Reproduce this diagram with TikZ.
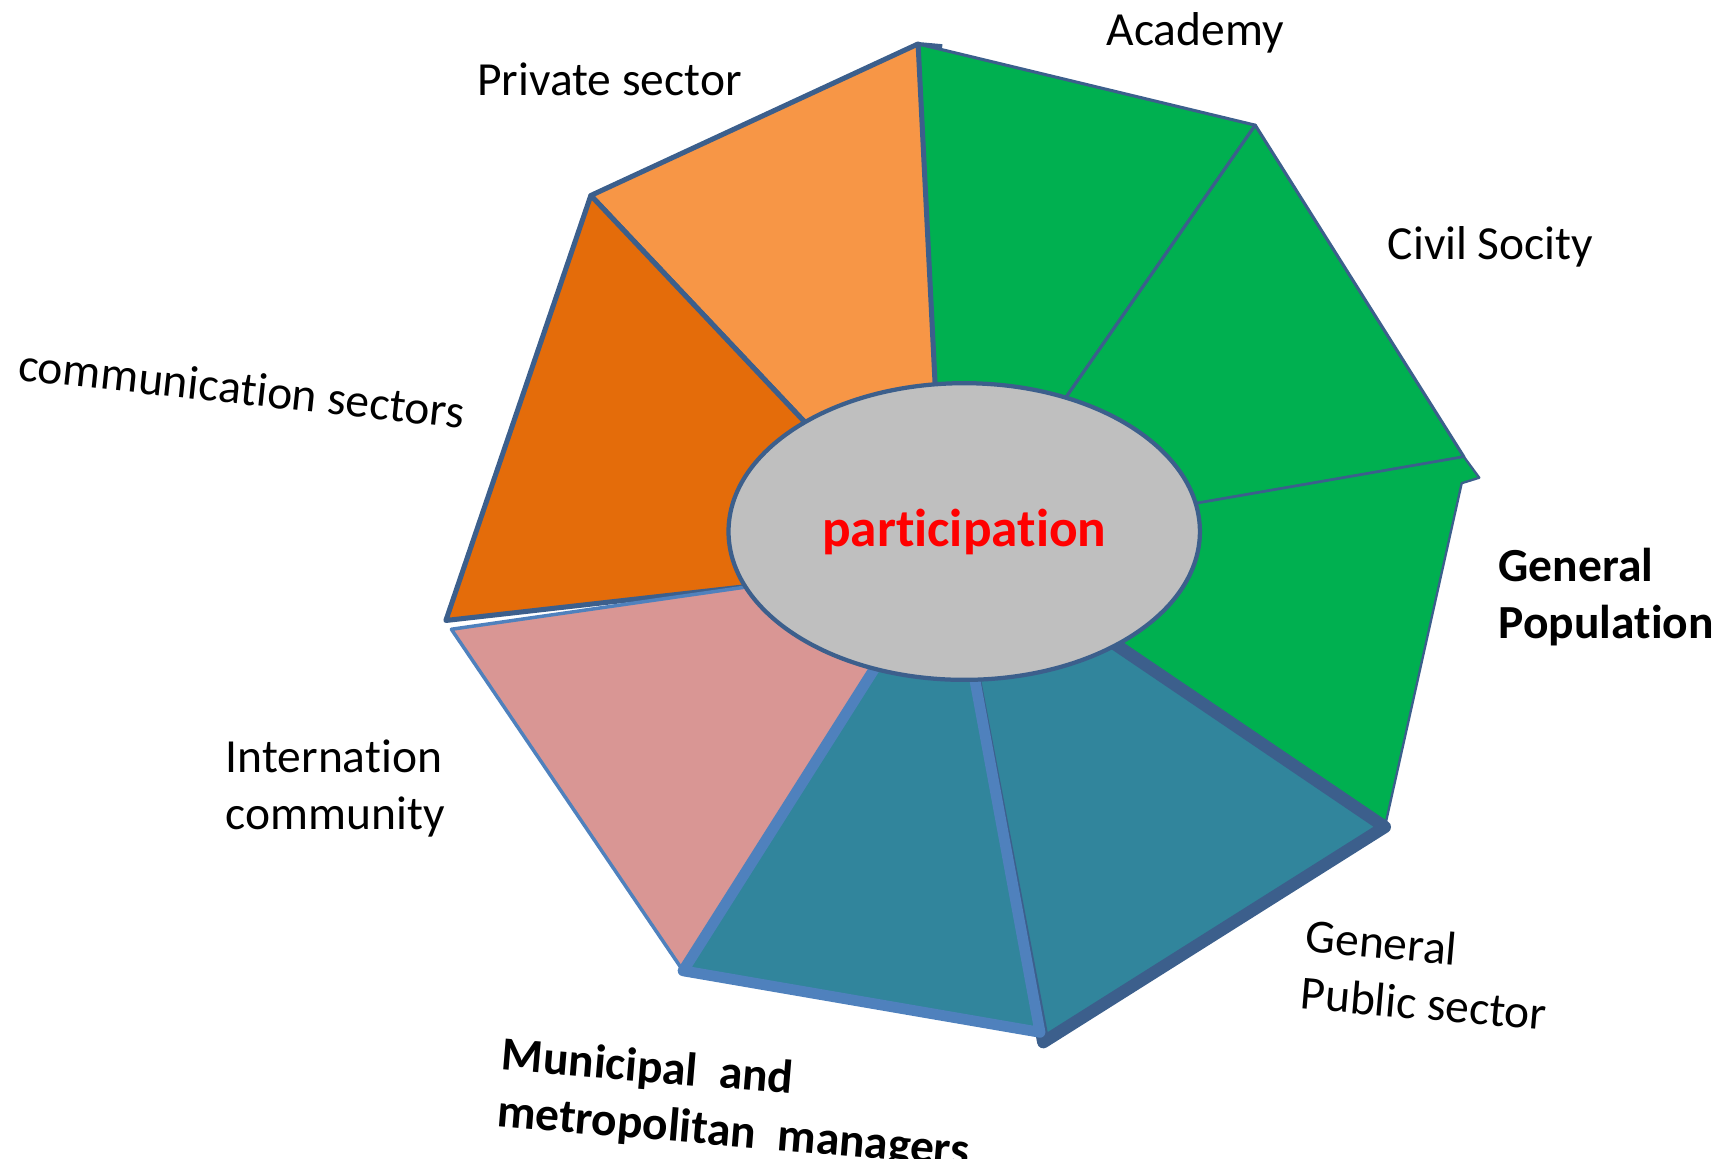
\documentclass[tikz,border=0pt]{standalone}
\usepackage{fontspec}
\setmainfont{Carlito}[RawFeature={-liga;-clig}]
\usetikzlibrary{shapes.geometric}
\definecolor{darkline}{RGB}{60,95,140}
\definecolor{lightline}{RGB}{79,129,189}
\definecolor{sgreen}{RGB}{0,176,80}
\definecolor{lorange}{RGB}{247,150,70}
\definecolor{dorange}{RGB}{228,108,10}
\definecolor{steal}{RGB}{49,133,156}
\definecolor{spink}{RGB}{217,150,148}
\definecolor{sgray}{RGB}{191,191,191}
\begin{document}
\begin{tikzpicture}[x=0.01cm,y=-0.01cm,
  seg/.style={line join=round},
  greenseg/.style={seg, fill=sgreen, draw=darkline, line width=0.8pt},
  orangeseg/.style={seg, draw=darkline, line width=1.3pt},
  teal1/.style={seg, fill=steal, draw=darkline, line width=3.2pt, line cap=round},
  teal2/.style={seg, fill=steal, draw=lightline, line width=2.8pt},
  pinkseg/.style={seg, fill=spink, draw=lightline, line width=0.9pt},
  lbl/.style={font=\fontsize{12.3pt}{14.8pt}\selectfont, inner sep=0pt, align=left},
  blbl/.style={lbl, font=\fontsize{12.3pt}{14.8pt}\selectfont\bfseries}]
\useasboundingbox (0,0) rectangle (1568,1055);
% outer corners
\coordinate (O1) at (836,40);
\coordinate (O1t) at (858,42);
\coordinate (O2) at (1143,114);
\coordinate (O3) at (1333,416);
\coordinate (O3t) at (1347,435);
\coordinate (O3b) at (1331,440);
\coordinate (O4) at (1261,753);
\coordinate (O5) at (950,949);
\coordinate (O5m) at (947,940);
\coordinate (O6) at (622,884);
\coordinate (O7) at (411,573);
\coordinate (O7c) at (406,565);
\coordinate (O8) at (538,178);
% inner points
\coordinate (C) at (878,484);
\coordinate (I1) at (852,360);
\coordinate (I2) at (965,370);
\coordinate (I3) at (1080,460);
\coordinate (I4) at (1010,583);
\coordinate (I5) at (886,610);
\coordinate (I6) at (800,603);
\coordinate (I7) at (690,533);
\coordinate (I8) at (740,392);
% segments
\draw[greenseg] (I1) -- (O1) -- (O2) -- (I2) -- (C) -- cycle;
\draw[darkline, line width=1pt] (O1) -- (O1t);
\draw[greenseg] (I2) -- (O2) -- (O3) -- (I3) -- (C) -- cycle;
\draw[greenseg, line width=0.6pt] (I3) -- (O3) -- (O3t) -- (O3b) -- (O4) -- (I4) -- (C) -- cycle;
\draw[orangeseg, fill=lorange] (I8) -- (O8) -- (O1) -- (I1) -- (C) -- cycle;
\draw[orangeseg, fill=dorange] (I7) -- (O7c) -- (O8) -- (I8) -- (C) -- cycle;
\draw[pinkseg] (I6) -- (O6) -- (O7) -- (I7) -- (C) -- cycle;
\draw[teal1] (I4) -- (O4) -- (O5) -- (I5) -- (C) -- cycle;
\draw[teal2] (I5) -- (O5m) -- (O6) -- (I6) -- (C) -- cycle;
% centre
\node[ellipse, fill=sgray, draw=darkline, line width=1.1pt,
      minimum width=4.29cm, minimum height=2.70cm, inner sep=0pt] (centre) at (C)
  {\fontsize{13.8pt}{16pt}\selectfont\bfseries\color{red}participation};
% labels
\node[lbl, anchor=base west] (academy) at (1007,41) {Academy};
\node[lbl, anchor=base west] (private) at (434,87) {Private sector};
\node[lbl, anchor=base west] (civil) at (1263,236) {Civil Socity};
\node[blbl, anchor=north west] (genpop) at (1364,498) {General\\Population};
\node[lbl, anchor=north west] (intl) at (205,673) {Internation\\community};
\node[lbl, anchor=base west, rotate=-6.2] (comm) at (15,346) {communication sectors};
\node[lbl, anchor=north west, rotate=-5] (genpub) at (1190,836) {General\\Public sector};
\node[blbl, anchor=north west, rotate=-4.8] (munic) at (458,943) {Municipal\ \ and\\metropolitan\ \ managers};
\end{tikzpicture}
\end{document}
